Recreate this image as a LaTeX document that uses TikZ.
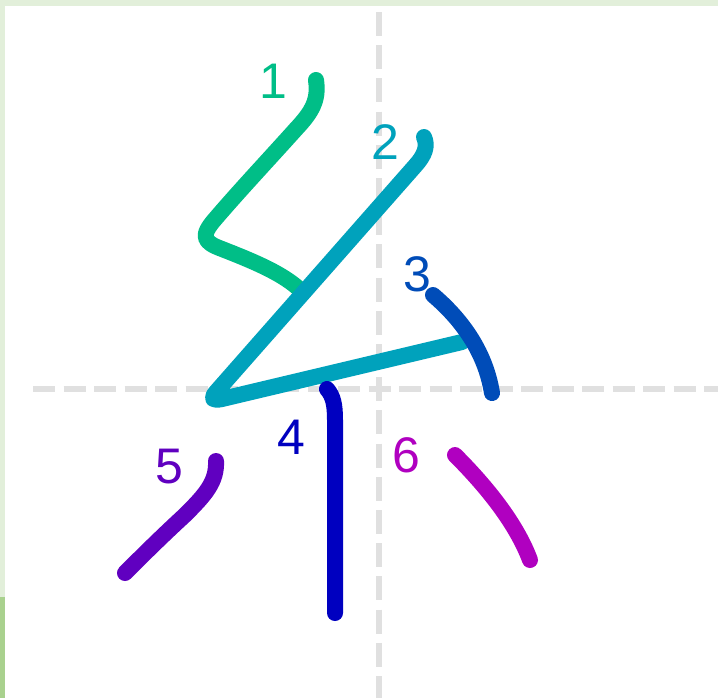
\documentclass[tikz,border=0pt]{standalone}
\usepackage{fontspec}
\setmainfont{Liberation Sans}
\usetikzlibrary{positioning}
\definecolor{frameLight}{RGB}{226,239,218}
\definecolor{frameDark}{RGB}{169,209,142}
\definecolor{guideGray}{RGB}{224,224,224}
\definecolor{sOne}{RGB}{0,190,135}
\definecolor{sTwo}{RGB}{0,162,188}
\definecolor{sThree}{RGB}{0,76,184}
\definecolor{sFour}{RGB}{0,0,192}
\definecolor{sFive}{RGB}{96,0,192}
\definecolor{sSix}{RGB}{176,0,192}

\begin{document}
\begin{tikzpicture}[x=0.5pt, y=-0.5pt,
    stroke/.style={line width=8pt, line cap=round, line join=round},
    numlabel/.style={inner sep=0pt, font=\fontsize{25pt}{25pt}\selectfont},
    guide/.style={guideGray, line width=2.6pt}]
    % frame and background
    \useasboundingbox (0,0) rectangle (718,698);
    \fill[frameLight] (0,0) rectangle (718,698);
    \fill[frameDark] (0,597) rectangle (5,698);
    \fill[white] (5,6) rectangle (718,698);
    % guide lines
    \draw[guide, dash pattern=on 12pt off 4.6pt] (379,12) -- (379,698);
    \draw[guide, dash pattern=on 11pt off 4.25pt] (33,389) -- (718,389);
    % strokes
    \draw[stroke, sOne] (316,80) .. controls (319,100) and (312,112) .. (296,129)
      .. controls (270,158) and (240,190) .. (216,218)
      .. controls (200,236) and (203,242) .. (222,249)
      .. controls (250,260) and (280,272) .. (298,288);
    \draw[stroke, sTwo] (424,137) .. controls (428,146) and (425,155) .. (415,166)
      -- (216,392) .. controls (210,399) and (213,401) .. (222,399) -- (462,342);
    \draw[stroke, sThree] (433,295) .. controls (460,318) and (485,350) .. (492,393);
    \draw[stroke, sFour] (327,389) .. controls (333,396) and (335,404) .. (335,420) -- (335,613);
    \draw[stroke, sFive] (216,461) .. controls (217,482) and (205,495) .. (185,515)
      .. controls (160,538) and (140,558) .. (125,573);
    \draw[stroke, sSix] (455,455) .. controls (482,482) and (515,520) .. (530,560);
    % stroke numbers
    \foreach \n/\px/\py/\col in {1/273/81/sOne, 2/385/142/sTwo, 3/417/274/sThree,
        4/291/437/sFour, 5/169/467/sFive, 6/406/455/sSix}
      \node[numlabel, text=\col] (num\n) at (\px,\py) {\n};
\end{tikzpicture}
\end{document}
